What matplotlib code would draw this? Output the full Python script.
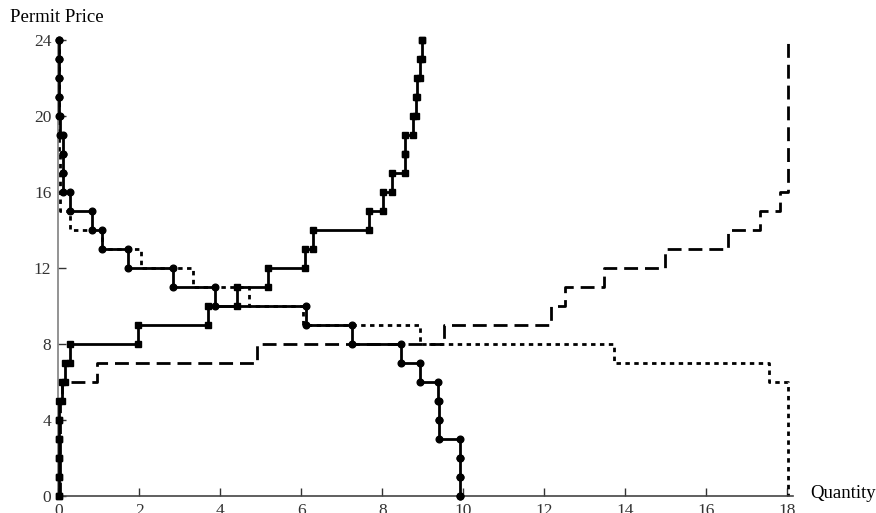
import matplotlib
matplotlib.use('Agg')
import matplotlib.pyplot as plt
from matplotlib import rc

rc('font', **{'family': 'serif', 'serif': ['Liberation Serif', 'DejaVu Serif']})

# permit prices, one step per integer price
prices = list(range(0, 25))

# solid line, circles: demand (quantity at each price, price 0..24)
demand_a = [9.92, 9.92, 9.92, 9.92, 9.41, 9.41, 9.38, 8.93, 8.46, 7.25,
            6.11, 3.88, 2.83, 1.72, 1.07, 0.82, 0.29, 0.12, 0.12, 0.12,
            0.04, 0.01, 0.01, 0.01, 0.01]
# solid line, squares: supply
supply_a = [0.01, 0.01, 0.01, 0.01, 0.02, 0.1, 0.17, 0.3, 1.96, 3.7,
            4.4, 5.18, 6.09, 6.28, 7.68, 8.02, 8.23, 8.56, 8.56, 8.76,
            8.84, 8.85, 8.93, 8.97, 8.98]
# dashed: supply
supply_b = [0.03, 0.03, 0.03, 0.03, 0.03, 0.1, 0.95, 4.9, 9.53, 12.16,
            12.52, 13.48, 14.99, 16.54, 17.32, 17.81, 18.02, 18.02, 18.02, 18.02,
            18.02, 18.02, 18.02, 18.02, 18.02]
# dotted: demand
demand_b = [18.02, 18.02, 18.02, 18.02, 18.02, 18.02, 18.02, 17.55, 13.72, 8.93,
            6.03, 4.71, 3.33, 2.05, 1.07, 0.28, 0.03, 0.03, 0.03, 0.02,
            0.02, 0.02, 0.02, 0.02, 0.02]

x_ticks = list(range(0, 19, 2))
y_ticks = list(range(0, 25, 4))


def step_path(p_list, q_list):
    # horizontal run at each price from the previous quantity, then vertical to next price
    xs, ys = [], []
    prev = q_list[0]
    for p, q in zip(p_list, q_list):
        xs += [prev, q]
        ys += [p, p]
        prev = q
    return xs, ys


def plot_market():
    f = plt.figure(figsize=(8.76, 5.13), dpi=100)
    ax = f.add_axes([58.3 / 876, 17.3 / 513, 18.15 * 40.5 / 876, 455.7 / 513])

    down = prices[::-1]
    xs, ys = step_path(down, demand_b[::-1])
    ax.plot(xs, ys, color='black', lw=2.0, linestyle=(0, (1.6, 1.6)), clip_on=False, zorder=2)
    xs, ys = step_path(prices, supply_b)
    ax.plot(xs, ys, color='black', lw=2.0, linestyle=(0, (5, 2.5)), clip_on=False, zorder=2)

    xs, ys = step_path(down, demand_a[::-1])
    ax.plot(xs, ys, 'k-', lw=2.0, marker='o', markersize=4.8, clip_on=False, zorder=3)
    xs, ys = step_path(prices, supply_a)
    ax.plot(xs, ys, 'k-', lw=2.0, marker='s', markersize=4.8, clip_on=False, zorder=3)

    ax.set_xlim(0, 18.15)
    ax.set_ylim(0, 24)
    ax.set_xticks(x_ticks)
    ax.set_yticks(y_ticks)
    ax.tick_params(direction='in', length=6, width=1, labelsize=12.5, pad=5, colors='#333333')
    for side in ['top', 'right']:
        ax.spines[side].set_visible(False)
    ax.spines['left'].set_color('#808080')
    ax.spines['bottom'].set_color('#444444')
    ax.spines['left'].set_linewidth(1.2)
    ax.spines['bottom'].set_linewidth(1.2)

    f.text(810 / 876, 1 - 494 / 513, 'Quantity', fontsize=13.5, ha='left', va='center')
    f.text(10 / 876, 1 - 18 / 513, 'Permit Price', fontsize=13.5, ha='left', va='center')

    f.savefig('out.png', dpi=100)


if __name__ == '__main__':
    plot_market()
